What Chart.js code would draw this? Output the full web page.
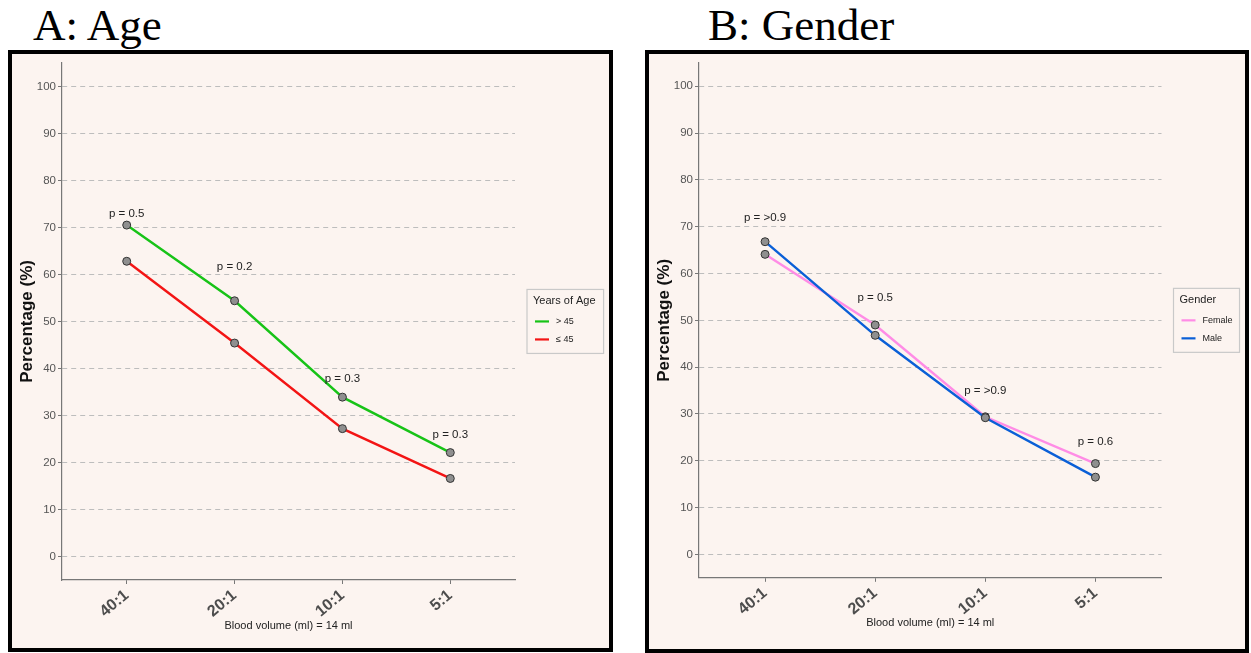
<!doctype html>
<html lang="en">
<head>
    <title>Blood volume ratio by age and gender</title>
    <meta charset="utf-8">
    <script src="https://cdn.jsdelivr.net/npm/chart.js@4.4.1/dist/chart.umd.min.js"></script>
    <style>
        body { margin: 0; background: #fff; width: 1251px; height: 653px; position: relative; overflow: hidden; }
        .heading { position: absolute; top: 3px; font-family: "Liberation Serif", "Times New Roman", serif; font-size: 45px; line-height: 45px; color: #000; white-space: nowrap; }
        .panel { position: absolute; box-sizing: border-box; border: 4px solid #000; background: #fcf4f0; }
        .panel canvas { display: block; }
    </style>
</head>
<body>
<div class="heading" style="left:33px">A: Age</div>
<div class="heading" style="left:708px">B: Gender</div>
<div class="panel" style="left:8px;top:50px;width:605px;height:602px">
    <canvas id="ageChart" width="597" height="594"></canvas>
</div>
<div class="panel" style="left:645px;top:50px;width:604px;height:603px">
    <canvas id="genderChart" width="596" height="595"></canvas>
</div>
<script>
    const categories = ['40:1', '20:1', '10:1', '5:1'];
    const yTicks = [0, 10, 20, 30, 40, 50, 60, 70, 80, 90, 100];

    // A: Age
    const ageOver45 = [70.5, 54.4, 33.9, 22.1];
    const ageUpTo45 = [62.8, 45.4, 27.2, 16.6];
    const agePText = ['p = 0.5', 'p = 0.2', 'p = 0.3', 'p = 0.3'];
    const agePAt = [72.8, 61.7, 37.8, 25.8];

    // B: Gender
    const genderFemale = [64.1, 49.0, 29.4, 19.4];
    const genderMale = [66.8, 46.8, 29.2, 16.5];
    const genderPText = ['p = >0.9', 'p = 0.5', 'p = >0.9', 'p = 0.6'];
    const genderPAt = [72.0, 54.8, 34.9, 24.0];

    const SANS = '"Liberation Sans", Arial, sans-serif';

    function toPoints(values) {
        return values.map((v, i) => ({x: i, y: v}));
    }

    function series(label, values, color, order) {
        return {
            label: label,
            data: toPoints(values),
            borderColor: color,
            backgroundColor: color,
            borderWidth: 2.4,
            tension: 0,
            order: order,
            pointRadius: 4,
            pointBorderWidth: 1,
            pointBackgroundColor: '#8f8f8f',
            pointBorderColor: '#333',
            pointHoverRadius: 4
        };
    }

    // p-value labels above each ratio
    const pLabels = {
        id: 'pLabels',
        afterDatasetsDraw(chart, args, opts) {
            const ctx = chart.ctx;
            const x = chart.scales.x, y = chart.scales.y;
            ctx.save();
            ctx.font = '11.5px ' + SANS;
            ctx.fillStyle = '#222';
            ctx.textAlign = 'center';
            ctx.textBaseline = 'middle';
            opts.text.forEach((t, i) => {
                ctx.fillText(t, x.getPixelForValue(i), y.getPixelForValue(opts.at[i]));
            });
            ctx.restore();
        }
    };

    // boxed legend to the right of the plot
    const sideLegend = {
        id: 'sideLegend',
        afterDraw(chart, args, opts) {
            const ctx = chart.ctx;
            const area = chart.chartArea;
            ctx.save();
            ctx.font = '11px ' + SANS;
            const titleW = ctx.measureText(opts.title).width;
            ctx.font = '9px ' + SANS;
            const entryW = Math.max(...opts.entries.map(e => ctx.measureText(e.label).width));
            const w = Math.max(titleW + 14, 29 + entryW + 7);
            const h = 64;
            const left = area.right + 12;
            const top = (area.top + area.bottom) / 2 - h / 2;
            ctx.strokeStyle = '#c9c9c9';
            ctx.lineWidth = 1.2;
            ctx.strokeRect(left, top, w, h);
            ctx.fillStyle = '#222';
            ctx.textBaseline = 'middle';
            ctx.font = '11px ' + SANS;
            ctx.fillText(opts.title, left + 6, top + 12);
            ctx.font = '9px ' + SANS;
            opts.entries.forEach((e, i) => {
                const yy = top + 32 + i * 18;
                ctx.strokeStyle = e.color;
                ctx.lineWidth = 2.2;
                ctx.beginPath();
                ctx.moveTo(left + 8, yy);
                ctx.lineTo(left + 22, yy);
                ctx.stroke();
                ctx.fillStyle = '#222';
                ctx.fillText(e.label, left + 29, yy);
            });
            ctx.restore();
        }
    };

    function makeChart(id, datasets, p, legend, box) {
        return new Chart(document.getElementById(id), {
            type: 'line',
            data: {datasets: datasets},
            plugins: [pLabels, sideLegend],
            options: {
                responsive: false,
                animation: false,
                events: [],
                layout: {padding: {top: box.top, right: box.right, left: 0, bottom: 0}},
                plugins: {
                    legend: {display: false},
                    tooltip: {enabled: false},
                    pLabels: p,
                    sideLegend: legend
                },
                scales: {
                    x: {
                        type: 'linear',
                        min: -0.6,
                        max: categories.length - 0.4,
                        afterBuildTicks: s => { s.ticks = categories.map((c, i) => ({value: i})); },
                        afterFit: s => { s.height = box.xHeight; },
                        ticks: {
                            autoSkip: false,
                            minRotation: 40,
                            maxRotation: 40,
                            padding: 2,
                            color: '#4d4d4d',
                            font: {family: SANS, size: 16, weight: 'bold'},
                            callback: v => categories[v]
                        },
                        grid: {drawOnChartArea: false, drawTicks: true, tickLength: 4, tickColor: '#777'},
                        border: {color: '#777', width: 1.2},
                        title: {
                            display: true,
                            text: 'Blood volume (ml) = 14 ml',
                            color: '#222',
                            font: {family: SANS, size: 11},
                            padding: {top: 0, bottom: box.xTitlePad}
                        }
                    },
                    y: {
                        min: -5,
                        max: 105,
                        afterBuildTicks: s => { s.ticks = yTicks.map(v => ({value: v})); },
                        afterFit: s => { s.width = 50; },
                        ticks: {
                            padding: 2,
                            color: '#555',
                            font: {family: SANS, size: 11.5}
                        },
                        grid: {color: '#bdbdbd', lineWidth: 1, drawTicks: true, tickLength: 4, tickColor: '#777'},
                        border: {color: '#777', width: 1.2, dash: [5, 4]},
                        title: {
                            display: true,
                            text: 'Percentage (%)',
                            color: '#111',
                            font: {family: SANS, size: 17, weight: 'bold'},
                            padding: {top: 5, bottom: 0}
                        }
                    }
                }
            }
        });
    }

    makeChart('ageChart', [
        series('> 45', ageOver45, '#17c317', 0),
        series('\u2264 45', ageUpTo45, '#f31414', 1)
    ], {text: agePText, at: agePAt}, {
        title: 'Years of Age',
        entries: [{label: '> 45', color: '#17c317'}, {label: '\u2264 45', color: '#f31414'}]
    }, {top: 5.3, right: 94, xHeight: 68, xTitlePad: 15.7});

    makeChart('genderChart', [
        series('Female', genderFemale, '#ff8ce6', 1),
        series('Male', genderMale, '#0a5fd7', 0)
    ], {text: genderPText, at: genderPAt}, {
        title: 'Gender',
        entries: [{label: 'Female', color: '#ff8ce6'}, {label: 'Male', color: '#0a5fd7'}]
    }, {top: 3.4, right: 83.5, xHeight: 71.2, xTitlePad: 19.7});
</script>
</body>
</html>
